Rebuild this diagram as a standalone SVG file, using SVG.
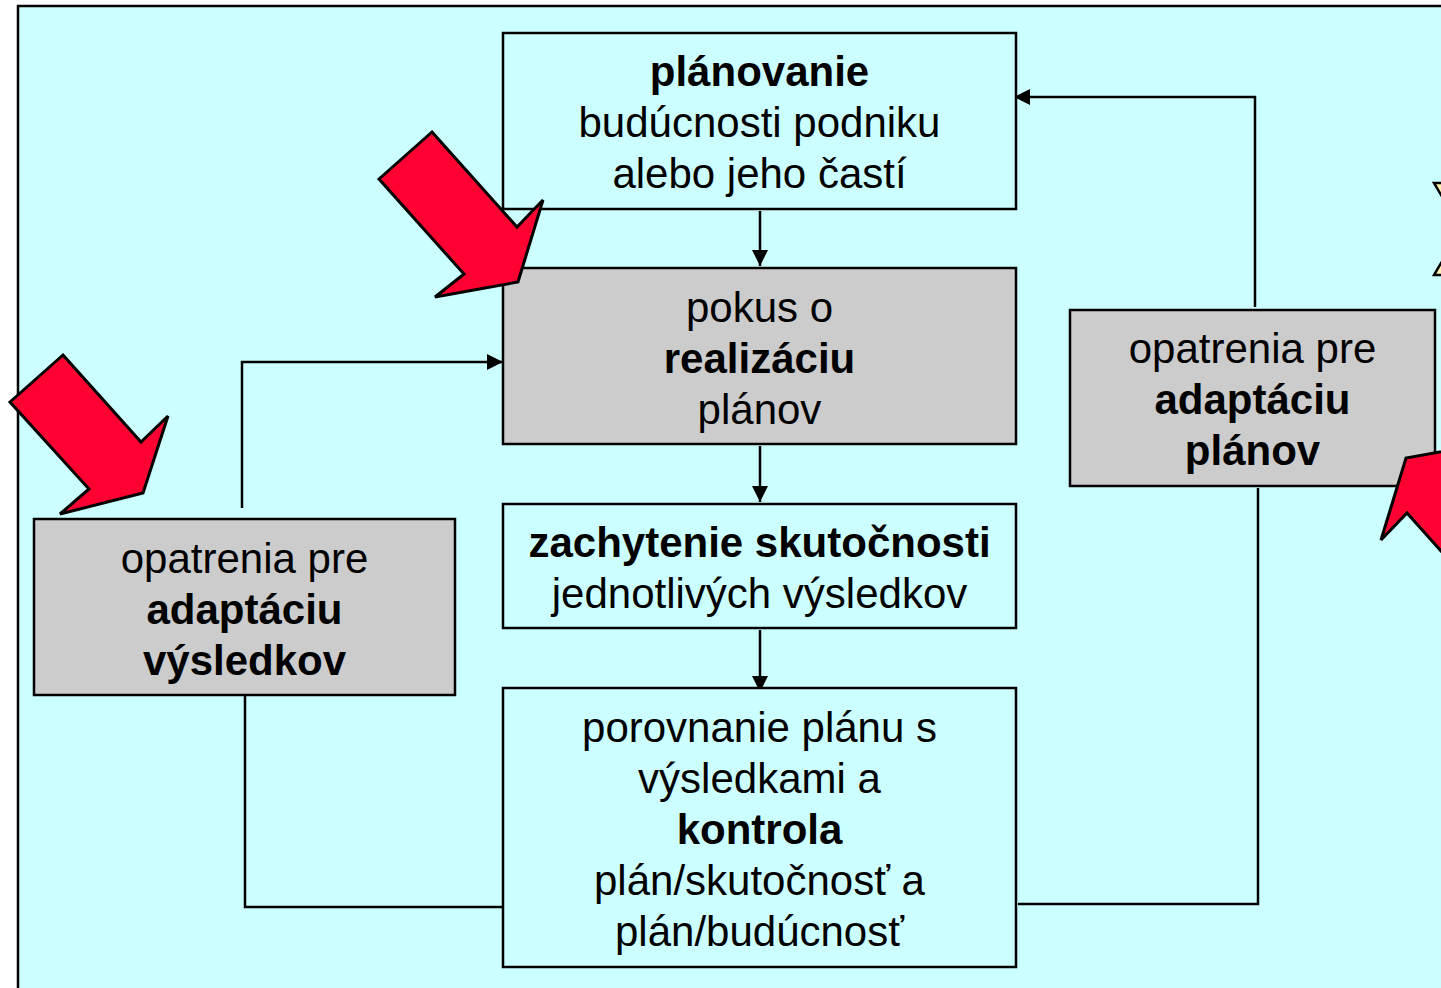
<svg xmlns="http://www.w3.org/2000/svg" width="1441" height="988" viewBox="0 0 1441 988">
<style>
.bg{fill:#CCFFFF;stroke:#000;stroke-width:2.5}
.box{fill:#CCFFFF;stroke:#000;stroke-width:2.5}
.gray{fill:#CCCCCC;stroke:#000;stroke-width:2.5}
.conn{fill:none;stroke:#000;stroke-width:2.5}
.red{fill:#FF0033;stroke:#000;stroke-width:3;stroke-linejoin:miter}
.yel{fill:#FFF2B0;stroke:#000;stroke-width:2.5}
text{font-family:"Liberation Sans",Arial,sans-serif;font-size:42px;fill:#000;text-anchor:middle}
.b{font-weight:bold}
</style>
<defs>
<marker id="ah" markerWidth="16" markerHeight="16" refX="16" refY="8" orient="auto" markerUnits="userSpaceOnUse">
<path d="M0,0 L16,8 L0,16 Z" fill="#000"/>
</marker>
</defs>
<rect width="1441" height="988" fill="#FFFFFF"/>
<rect class="bg" x="18" y="6" width="1450" height="1000"/>
<g id="deco">
<polygon class="yel" points="1434,183 1460,183 1460,227"/>
<polygon class="yel" points="1434,275 1460,275 1460,231"/>
</g>
<g id="connectors">
<line class="conn" x1="760" y1="211" x2="760" y2="266" marker-end="url(#ah)"/>
<line class="conn" x1="760" y1="446" x2="760" y2="502" marker-end="url(#ah)"/>
<line class="conn" x1="760" y1="630" x2="760" y2="692" marker-end="url(#ah)"/>
<polyline class="conn" points="242,508 242,362 503,362" marker-end="url(#ah)"/>
<polyline class="conn" points="245,696 245,907 503,907"/>
<polyline class="conn" points="1018,904 1258,904 1258,488"/>
<polyline class="conn" points="1255,307 1255,97 1014,97" marker-end="url(#ah)"/>
</g>
<g id="n1">
<rect class="box" x="503" y="33" width="513" height="176"/>
<text x="759.5" y="86" class="b">plánovanie</text>
<text x="759.5" y="137">budúcnosti podniku</text>
<text x="759.5" y="188">alebo jeho častí</text>
</g>
<g id="n2">
<rect class="gray" x="503" y="268" width="513" height="176"/>
<text x="759.5" y="322">pokus o</text>
<text x="759.5" y="373" class="b">realizáciu</text>
<text x="759.5" y="424">plánov</text>
</g>
<g id="n3">
<rect class="box" x="503" y="504" width="513" height="124"/>
<text x="759.5" y="557" class="b">zachytenie skutočnosti</text>
<text x="759.5" y="608">jednotlivých výsledkov</text>
</g>
<g id="n4">
<rect class="box" x="503" y="688" width="513" height="279"/>
<text x="759.5" y="742">porovnanie plánu s</text>
<text x="759.5" y="793">výsledkami a</text>
<text x="759.5" y="844" class="b">kontrola</text>
<text x="759.5" y="895">plán/skutočnosť a</text>
<text x="759.5" y="946">plán/budúcnosť</text>
</g>
<g id="n5">
<rect class="gray" x="34" y="519" width="421" height="176"/>
<text x="244.5" y="573">opatrenia pre</text>
<text x="244.5" y="624" class="b">adaptáciu</text>
<text x="244.5" y="675" class="b">výsledkov</text>
</g>
<g id="n6">
<rect class="gray" x="1070" y="310" width="365" height="176"/>
<text x="1252.5" y="363">opatrenia pre</text>
<text x="1252.5" y="414" class="b">adaptáciu</text>
<text x="1252.5" y="465" class="b">plánov</text>
</g>
<g id="arrows">
<polygon class="red" points="432,132 517,227 543,200 518,282 435,297 464,274 379,179"/>
<polygon class="red" points="63,355 141,442 168,416 143,493 60,514 89,489 10,402"/>
<polygon class="red" points="1492,608 1407,513 1381,540 1406,458 1489,443 1460,466 1545,561"/>
</g>
</svg>
